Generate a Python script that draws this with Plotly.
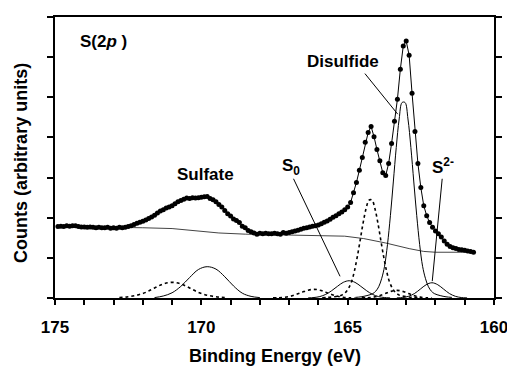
import plotly.graph_objects as go

# ---------------- data ----------------
# measured spectrum: binding energy grid (0.1 eV steps, 174.9 -> 160.7) and counts
energy = [round(174.9 - 0.1 * i, 1) for i in range(143)]
counts = [
    1.78, 1.79, 1.78, 1.80, 1.79, 1.80, 1.80, 1.78, 1.77, 1.77,
    1.76, 1.77, 1.76, 1.75, 1.76, 1.75, 1.75, 1.76, 1.74, 1.75,
    1.74, 1.76, 1.75, 1.76, 1.78, 1.80, 1.83, 1.86, 1.89, 1.91,
    1.94, 1.98, 2.02, 2.06, 2.12, 2.17, 2.20, 2.24, 2.27, 2.30,
    2.35, 2.40, 2.43, 2.46, 2.49, 2.48, 2.50, 2.49, 2.50, 2.51,
    2.52, 2.53, 2.48, 2.45, 2.40, 2.33, 2.27, 2.18, 2.10, 2.04,
    1.97, 1.93, 1.88, 1.79, 1.75, 1.68, 1.65, 1.62, 1.59, 1.61,
    1.60, 1.61, 1.60, 1.60, 1.61, 1.60, 1.59, 1.63, 1.61, 1.63,
    1.65, 1.67, 1.69, 1.71, 1.74, 1.75, 1.77, 1.79, 1.80, 1.82,
    1.85, 1.89, 1.92, 1.96, 2.01, 2.05, 2.10, 2.14, 2.20, 2.27,
    2.38, 2.62, 2.88, 3.18, 3.50, 3.88, 4.12, 4.27, 4.02, 3.70,
    3.42, 3.12, 3.05, 3.35, 3.85, 4.40, 4.95, 5.70, 6.28, 6.40,
    6.05, 5.10, 4.15, 3.35, 2.75, 2.30, 2.05, 1.88, 1.76, 1.67,
    1.60, 1.52, 1.42, 1.34, 1.28, 1.25, 1.23, 1.21, 1.20, 1.19,
    1.17, 1.16, 1.14,
]

# background
bg_energy = [174.9, 173.0, 172.0, 171.0, 170.0, 169.4, 168.5, 167.4, 166.0,
             165.1, 164.45, 163.7, 162.9, 162.4, 162.0, 160.7]
bg_counts = [1.78, 1.77, 1.75, 1.73, 1.67, 1.62, 1.59, 1.57, 1.55,
             1.54, 1.48, 1.37, 1.23, 1.16, 1.14, 1.14]

# fitted components (solid = 2p3/2, dotted = 2p1/2)
sulfate_x = [171.6, 171.3, 171.0, 170.7, 170.4, 170.1, 169.8, 169.5, 169.2, 168.9, 168.6, 168.3, 168.0]
sulfate_y = [0.01, 0.05, 0.13, 0.29, 0.51, 0.71, 0.78, 0.72, 0.53, 0.30, 0.12, 0.04, 0.01]
sulfate_d_x = [172.8, 172.5, 172.2, 171.9, 171.6, 171.3, 171.0, 170.7, 170.4, 170.1, 169.8, 169.5, 169.2]
sulfate_d_y = [0.01, 0.03, 0.07, 0.14, 0.25, 0.35, 0.39, 0.35, 0.25, 0.14, 0.07, 0.03, 0.01]

s0_x = [166.35, 166.15, 165.95, 165.75, 165.55, 165.35, 165.15, 164.95, 164.75, 164.55, 164.35, 164.15, 163.95, 163.75, 163.55]
s0_y = [0.003, 0.012, 0.036, 0.09, 0.18, 0.29, 0.39, 0.43, 0.39, 0.29, 0.18, 0.09, 0.036, 0.012, 0.003]
s0_d_x = [167.55, 167.35, 167.15, 166.95, 166.75, 166.55, 166.35, 166.15, 165.95, 165.75, 165.55, 165.35, 165.15, 164.95, 164.75]
s0_d_y = [0.002, 0.006, 0.018, 0.045, 0.09, 0.145, 0.195, 0.215, 0.195, 0.145, 0.09, 0.045, 0.018, 0.006, 0.002]

disulfide_x = [164.74, 164.54, 164.34, 164.14, 164.04, 163.94, 163.84, 163.74, 163.64, 163.54,
               163.44, 163.34, 163.24, 163.14, 163.04, 162.94, 162.84, 162.74, 162.64, 162.54,
               162.44, 162.34, 162.24, 162.14, 162.04, 161.84, 161.64, 161.44]
disulfide_y = [0.015, 0.03, 0.06, 0.11, 0.17, 0.28, 0.48, 0.79, 1.33, 2.05,
               2.89, 3.75, 4.46, 4.87, 4.87, 4.46, 3.75, 2.89, 2.05, 1.33,
               0.79, 0.48, 0.28, 0.17, 0.11, 0.06, 0.03, 0.015]
disulfide_d_x = [165.87, 165.67, 165.47, 165.27, 165.17, 165.07, 164.97, 164.87, 164.77, 164.67,
                 164.57, 164.47, 164.37, 164.27, 164.17, 164.07, 163.97, 163.87, 163.77, 163.67,
                 163.57, 163.47, 163.37, 163.27, 163.17, 162.97, 162.77, 162.57]
disulfide_d_y = [0.008, 0.015, 0.03, 0.055, 0.085, 0.14, 0.24, 0.40, 0.67, 1.03,
                 1.45, 1.88, 2.23, 2.44, 2.44, 2.23, 1.88, 1.45, 1.03, 0.67,
                 0.40, 0.24, 0.14, 0.085, 0.055, 0.03, 0.015, 0.008]

sulfide_x = [163.32, 163.12, 162.92, 162.72, 162.52, 162.32, 162.12, 161.92, 161.72, 161.52, 161.32, 161.12, 160.92]
sulfide_y = [0.003, 0.012, 0.042, 0.11, 0.22, 0.33, 0.38, 0.33, 0.22, 0.11, 0.042, 0.012, 0.003]
sulfide_d_x = [164.52, 164.32, 164.12, 163.92, 163.72, 163.52, 163.32, 163.12, 162.92, 162.72, 162.52, 162.32, 162.12]
sulfide_d_y = [0.002, 0.006, 0.021, 0.055, 0.11, 0.165, 0.19, 0.165, 0.11, 0.055, 0.021, 0.006, 0.002]

x_ticks = [175, 170, 165, 160]

# ---------------- figure ----------------
fig = go.Figure()

fig.add_trace(go.Scatter(x=bg_energy, y=bg_counts, mode="lines",
                         line=dict(color="#444444", width=1), hoverinfo="skip"))

solid = dict(color="black", width=1)
dotted = dict(color="black", width=1.6, dash="dot")
for xs, ys, ln in [
    (sulfate_x, sulfate_y, solid), (sulfate_d_x, sulfate_d_y, dotted),
    (s0_x, s0_y, solid), (s0_d_x, s0_d_y, dotted),
    (disulfide_x, disulfide_y, solid), (disulfide_d_x, disulfide_d_y, dotted),
    (sulfide_x, sulfide_y, solid), (sulfide_d_x, sulfide_d_y, dotted),
]:
    fig.add_trace(go.Scatter(x=xs, y=ys, mode="lines", line=ln, line_shape="spline"))

fig.add_trace(go.Scatter(x=energy, y=counts, mode="lines+markers",
                         line=dict(color="black", width=1),
                         marker=dict(color="black", size=5)))

FONT = "Liberation Sans, Arial, sans-serif"

# page body has an 8px margin: the figure is sized/offset to compensate
fig.update_layout(
    width=507, height=360,
    margin=dict(l=47, r=18, t=7, b=70),
    plot_bgcolor="white", paper_bgcolor="white",
    showlegend=False,
    font=dict(family=FONT, color="black"),
    xaxis=dict(
        range=[175, 160], tickvals=x_ticks, ticktext=[str(v) for v in x_ticks],
        ticks="outside", ticklen=5, tickwidth=2, tickcolor="black",
        minor=dict(dtick=1, tick0=0, ticks="outside", ticklen=5, tickwidth=2, tickcolor="black"),
        showline=True, linewidth=2, linecolor="black", mirror=True,
        showgrid=False, zeroline=False,
        tickfont=dict(family=FONT, size=17, weight="bold"),
        ticklabelstandoff=8,
    ),
    yaxis=dict(
        range=[0, 7], dtick=1, tick0=0, showticklabels=False,
        ticks="outside", ticklen=6, tickwidth=2, tickcolor="black",
        showline=True, linewidth=2, linecolor="black", mirror="ticks",
        showgrid=False, zeroline=False,
    ),
)

ann_font = dict(family=FONT, size=17, color="black")
annotations = [
    dict(x=0.5, y=-0.207, xref="paper", yref="paper", text="<b>Binding Energy (eV)</b>",
         showarrow=False, font=dict(family=FONT, size=18), xanchor="center", yanchor="middle"),
    dict(x=-0.079, y=0.482, xref="paper", yref="paper", text="<b>Counts (arbitrary units)</b>",
         showarrow=False, font=dict(family=FONT, size=18), textangle=-90,
         xanchor="center", yanchor="middle"),
    dict(x=174.23, y=6.38, text="<b>S(2<i>p</i> )</b>", xanchor="left", yanchor="middle"),
    dict(x=169.86, y=3.07, text="<b>Sulfate</b>", xanchor="center", yanchor="middle"),
    dict(x=166.95, y=3.26, text="<b>S<sub>0</sub></b>", xanchor="center", yanchor="middle"),
    dict(x=165.16, y=5.89, text="<b>Disulfide</b>", xanchor="center", yanchor="middle"),
    dict(x=161.74, y=3.29, text="<b>S<sup>2-</sup></b>", xanchor="center", yanchor="middle"),
]
for a in annotations:
    a.setdefault("showarrow", False)
    a.setdefault("font", ann_font)
    fig.add_annotation(**a)

# leader lines for labels
for x0, y0, x1, y1 in [(166.85, 2.97, 165.26, 0.54),
                       (164.41, 5.59, 163.29, 4.58),
                       (161.77, 2.97, 162.11, 0.42)]:
    fig.add_shape(type="line", x0=x0, y0=y0, x1=x1, y1=y1, xref="x", yref="y",
                  line=dict(color="black", width=1))

fig.write_html("out.html")
